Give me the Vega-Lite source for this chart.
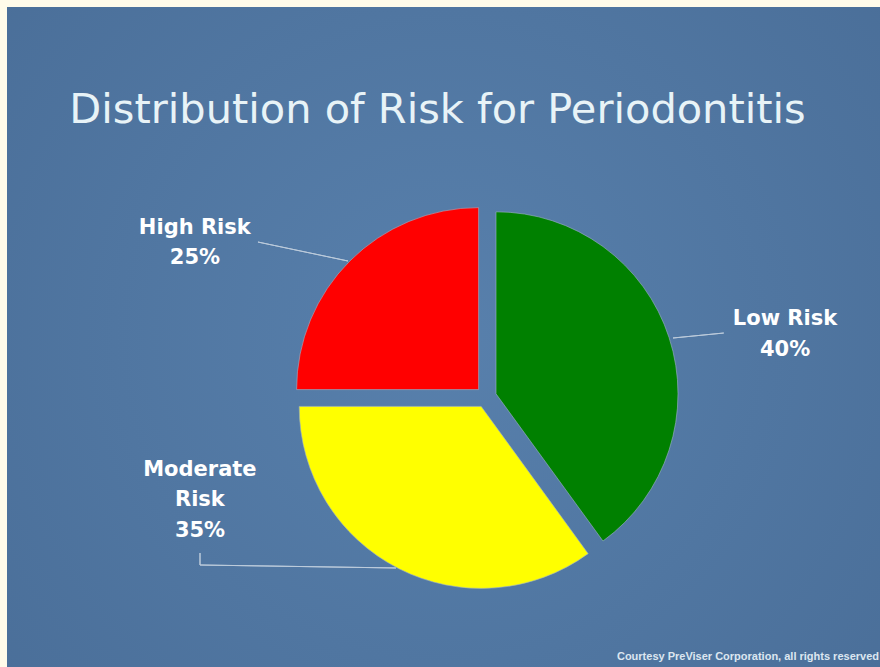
{
  "$schema": "https://vega.github.io/schema/vega-lite/v6.json",
  "width": 873,
  "height": 660,
  "autosize": {"type": "none"},
  "padding": {"left": 7, "top": 7, "right": 0, "bottom": 0},
  "background": "#FFFBEA",
  "view": {
    "fill": {"gradient": "radial", "x1": 0.5, "y1": 0.5, "r1": 0, "x2": 0.5, "y2": 0.5, "r2": 0.75, "stops": [{"offset": 0, "color": "#5880AC"}, {"offset": 1, "color": "#486C96"}]},
    "stroke": null
  },
  "config": {
    "font": "DejaVu Sans"
  },
  "title": {
    "text": "Distribution of Risk for Periodontitis",
    "font": "DejaVu Sans",
    "fontSize": 41.5,
    "fontWeight": "normal",
    "color": "#E8F3F7",
    "anchor": "middle",
    "offset": -157,
    "dx": -6,
    "baseline": "alphabetic"
  },
  "data": {
    "values": [
      {"category": "Low Risk", "value": 0.40},
      {"category": "Moderate Risk", "value": 0.35},
      {"category": "High Risk", "value": 0.25}
    ]
  },
  "transform": [
    {"stack": "value", "groupby": [], "sort": [{"field": "value", "order": "descending"}], "as": ["v0", "v1"]}
  ],
  "encoding": {
    "theta": {"field": "v0", "type": "quantitative", "scale": {"domain": [0, 1]}}
  },
  "layer": [
    {
      "transform": [{"filter": "datum.category === 'Low Risk'"}],
      "layer": [
        {
          "mark": {"type": "arc", "radius": 51, "radius2": 0, "theta": 1.473, "theta2": 1.4731, "xOffset": 229.5, "yOffset": 1, "filled": false, "stroke": "#BCCBDB", "strokeWidth": 1},
          "encoding": {"theta": null}
        },
        {
          "mark": {"type": "arc", "outerRadius": 182, "xOffset": 52.5, "yOffset": 56.8, "stroke": "#9DB2C9", "strokeWidth": 0.6},
          "encoding": {"theta2": {"field": "v1"}, "color": {"field": "category", "type": "nominal", "scale": {"domain": ["Low Risk", "Moderate Risk", "High Risk"], "range": ["#008000", "#FFFF00", "#FF0000"]}, "legend": null}}
        },
        {
          "mark": {"type": "text", "radius": 309, "thetaOffset": 1.316, "xOffset": 42.5, "yOffset": 60, "fontSize": 21, "fontWeight": "bold", "color": "#FFFFFF", "align": "center", "baseline": "middle"},
          "encoding": {"text": {"field": "category"}}
        },
        {
          "mark": {"type": "text", "radius": 302.7, "thetaOffset": 1.415, "xOffset": 42.5, "yOffset": 60, "fontSize": 21, "fontWeight": "bold", "color": "#FFFFFF", "align": "center", "baseline": "middle"},
          "encoding": {"text": {"field": "value", "type": "quantitative", "format": ".0%"}}
        }
      ]
    },
    {
      "transform": [{"filter": "datum.category === 'Moderate Risk'"}],
      "layer": [
        {
          "mark": {"type": "arc", "radius": 12, "radius2": 0, "theta": 3.1416, "theta2": 3.1417, "xOffset": -243.5, "yOffset": 216, "filled": false, "stroke": "#BCCBDB", "strokeWidth": 1},
          "encoding": {"theta": null}
        },
        {
          "mark": {"type": "arc", "radius": 196, "radius2": 0, "theta": 1.586, "theta2": 1.5861, "xOffset": -243.5, "yOffset": 228, "filled": false, "stroke": "#BCCBDB", "strokeWidth": 1},
          "encoding": {"theta": null}
        },
        {
          "mark": {"type": "arc", "outerRadius": 182, "xOffset": 37.7, "yOffset": 69.4, "stroke": "#9DB2C9", "strokeWidth": 0.6},
          "encoding": {"theta2": {"field": "v1"}, "color": {"field": "category", "type": "nominal", "legend": null}}
        },
        {
          "mark": {"type": "text", "radius": 295.2, "thetaOffset": 1.950, "xOffset": 42.5, "yOffset": 60, "fontSize": 21, "fontWeight": "bold", "color": "#FFFFFF", "align": "center", "baseline": "middle", "lineBreak": " ", "lineHeight": 30},
          "encoding": {"text": {"field": "category"}}
        },
        {
          "mark": {"type": "text", "radius": 315.8, "thetaOffset": 1.761, "xOffset": 42.5, "yOffset": 60, "fontSize": 21, "fontWeight": "bold", "color": "#FFFFFF", "align": "center", "baseline": "middle"},
          "encoding": {"text": {"field": "value", "type": "quantitative", "format": ".0%"}}
        }
      ]
    },
    {
      "transform": [{"filter": "datum.category === 'High Risk'"}],
      "layer": [
        {
          "mark": {"type": "arc", "radius": 92, "radius2": 0, "theta": 4.920, "theta2": 4.9201, "xOffset": -95.5, "yOffset": -76, "filled": false, "stroke": "#BCCBDB", "strokeWidth": 1},
          "encoding": {"theta": null}
        },
        {
          "mark": {"type": "arc", "outerRadius": 182, "xOffset": 35.1, "yOffset": 52.6, "stroke": "#9DB2C9", "strokeWidth": 0.6},
          "encoding": {"theta2": {"field": "v1"}, "color": {"field": "category", "type": "nominal", "legend": null}}
        },
        {
          "mark": {"type": "text", "radius": 336.5, "thetaOffset": 0.525, "xOffset": 42.5, "yOffset": 60, "fontSize": 21, "fontWeight": "bold", "color": "#FFFFFF", "align": "center", "baseline": "middle"},
          "encoding": {"text": {"field": "category"}}
        },
        {
          "mark": {"type": "text", "radius": 322.5, "thetaOffset": 0.445, "xOffset": 42.5, "yOffset": 60, "fontSize": 21, "fontWeight": "bold", "color": "#FFFFFF", "align": "center", "baseline": "middle"},
          "encoding": {"text": {"field": "value", "type": "quantitative", "format": ".0%"}}
        },
        {
          "mark": {"type": "text", "x": "width", "y": "height", "dx": -1, "dy": -7, "align": "right", "baseline": "alphabetic", "font": "Liberation Sans", "fontSize": 11, "fontWeight": "bold", "color": "#DCE6F0"},
          "encoding": {"theta": null, "text": {"value": "Courtesy PreViser Corporation, all rights reserved"}}
        }
      ]
    }
  ]
}
